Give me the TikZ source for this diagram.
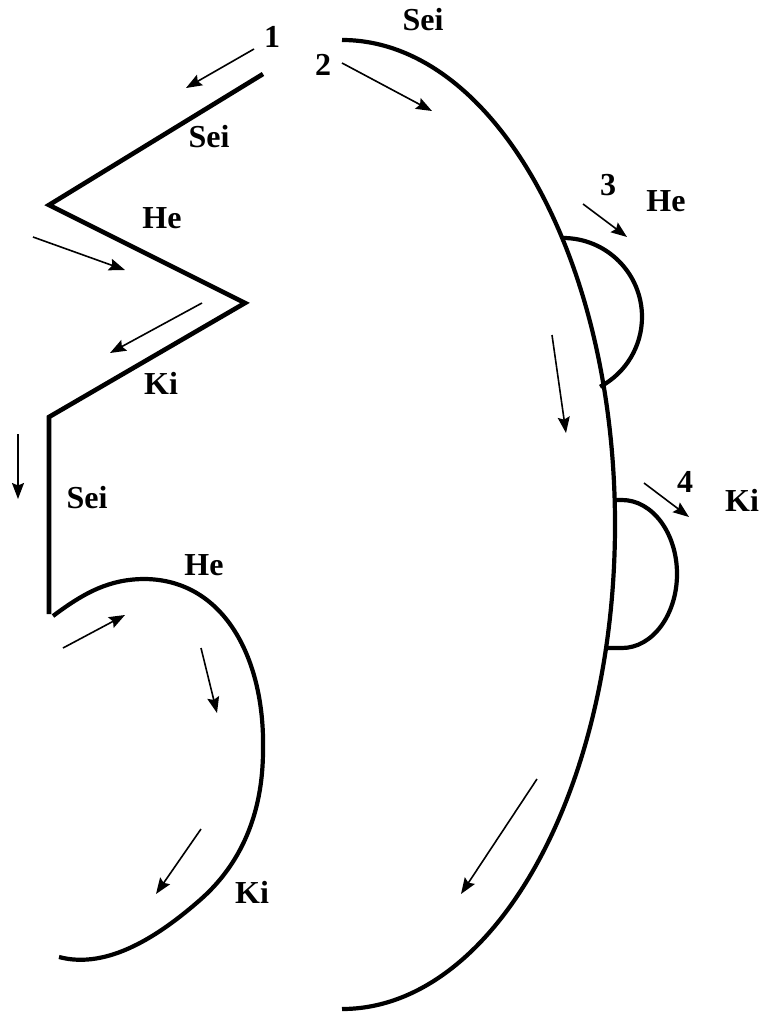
\documentclass[tikz,border=0pt]{standalone}
\usepackage{fontspec}
\setmainfont{Liberation Serif}
\usetikzlibrary{arrows.meta}
\begin{document}
\begin{tikzpicture}[x=1pt,y=-1pt,
  zig/.style={line width=4.6pt, line join=miter},
  curve/.style={line width=4.2pt},
  flow/.style={line width=1.6pt, -{Stealth[length=16pt,width=12pt,inset=2.5pt]}},
  lbl/.style={font=\fontsize{32}{34}\selectfont\bfseries, inner sep=0pt}]
\useasboundingbox (0,0) rectangle (761,1014);

% zig-zag line
\draw[zig] (263,74) -- (49,205) -- (245,303) -- (49,417) -- (49,614);

% lower curve
\draw[curve] (53,616) .. controls (85,592) and (110,579) .. (145,579)
  .. controls (225,580) and (265,660) .. (263,750)
  .. controls (263,815) and (240,865) .. (200,900)
  .. controls (160,935) and (108,970) .. (59,957);

% big arc
\draw[curve] (342,40) arc[start angle=-90, end angle=90, x radius=273, y radius=484.5];

% bump 3
\draw[curve] (563,238) arc[start angle=-90, end angle=62, radius=79];

% bump 4
\draw[curve] (613,500) -- (622,500) arc[start angle=-90, end angle=90, x radius=55, y radius=74] -- (607,648);

% arrows
\coordinate (a1s) at (254,49);  \coordinate (a1e) at (186,88);
\coordinate (a2s) at (342,63);  \coordinate (a2e) at (432,111);
\coordinate (a3s) at (33,237);  \coordinate (a3e) at (125,270);
\coordinate (a4s) at (202,303); \coordinate (a4e) at (110,353);
\coordinate (a5s) at (18,434);  \coordinate (a5e) at (18,499);
\coordinate (a6s) at (63,648);  \coordinate (a6e) at (125,615);
\coordinate (a7s) at (201,648); \coordinate (a7e) at (217,713);
\coordinate (a8s) at (201,829); \coordinate (a8e) at (156,894);
\coordinate (a9s) at (537,779); \coordinate (a9e) at (461,894);
\coordinate (a10s) at (552,335); \coordinate (a10e) at (566,433);
\coordinate (a11s) at (583,204); \coordinate (a11e) at (627,237);
\coordinate (a12s) at (644,483); \coordinate (a12e) at (689,517);
\foreach \i in {1,...,12} {\draw[flow] (a\i s) -- (a\i e);}

% labels
\node[lbl] (n1) at (272,37) {1};
\node[lbl] (n2) at (323,65) {2};
\node[lbl] (n3) at (608,185) {3};
\node[lbl] (n4) at (685,482) {4};
\node[lbl] (seiTop) at (423,20) {Sei};
\node[lbl] (seiZ) at (209,137) {Sei};
\node[lbl] (heZ) at (162,218) {He};
\node[lbl] (kiZ) at (161,383) {Ki};
\node[lbl] (seiV) at (87,498) {Sei};
\node[lbl] (heL) at (204,565) {He};
\node[lbl] (kiL) at (252,892) {Ki};
\node[lbl] (heR) at (666,201) {He};
\node[lbl] (kiR) at (742,500) {Ki};
\end{tikzpicture}
\end{document}
